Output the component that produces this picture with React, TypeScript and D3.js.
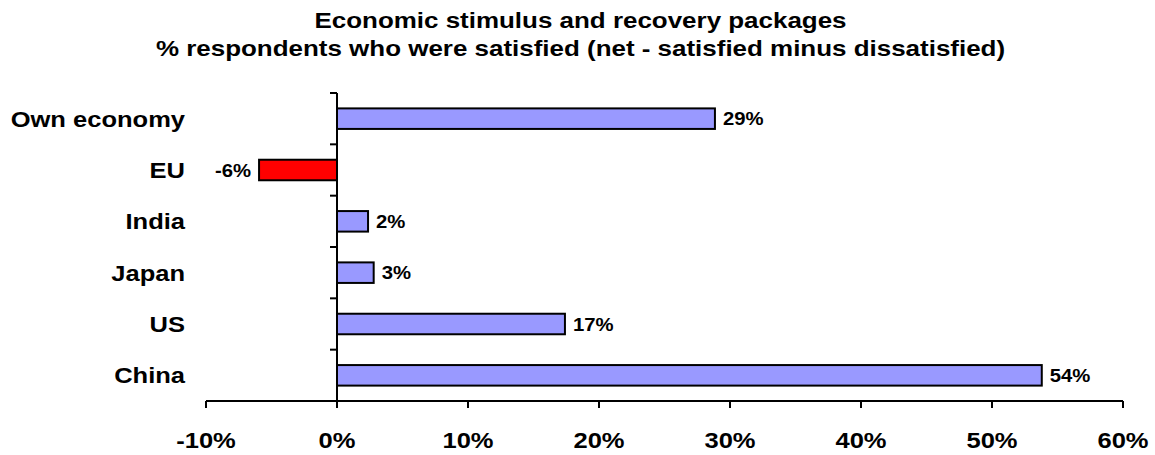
import React from "react";
import * as d3 from "d3";

const categories = ["Own economy", "EU", "India", "Japan", "US", "China"];
const values = [28.85, -5.95, 2.37, 2.8, 17.4, 53.8];
const xTicks = [-10, 0, 10, 20, 30, 40, 50, 60];
const titleLines = [
  "Economic stimulus and recovery packages",
  "% respondents who were satisfied (net - satisfied minus dissatisfied)",
];

const W = 1155;
const H = 455;
const SX = 1.16;
const FONT = "'Liberation Sans', Arial, sans-serif";

function T({ x, y, anchor, size, sx = SX, children }: any) {
  return (
    <text
      transform={`translate(${x},${y}) scale(${sx},1)`}
      textAnchor={anchor}
      fontSize={size}
      fontWeight="bold"
      fontFamily={FONT}
      fill="#000"
    >
      {children}
    </text>
  );
}

export default function App() {
  const x = d3.scaleLinear().domain([-10, 60]).range([206, 1123]);
  const y = d3
    .scaleBand<string>()
    .domain(categories)
    .range([93, 401])
    .paddingInner(0.6)
    .paddingOuter(0.3);
  const step = y.step();
  const x0 = x(0);
  const axisY = 401;

  return (
    <svg
      width={W}
      height={H}
      style={{ position: "fixed", left: 0, top: 0, background: "#fff" }}
    >
      <rect x={0} y={0} width={W} height={H} fill="#fff" />
      {titleLines.map((t, i) => (
        <T key={i} x={580.5} y={28 + i * 28} anchor="middle" size={22} sx={1.18}>
          {t}
        </T>
      ))}
      {categories.map((c, i) => {
        const v = values[i];
        const by = y(c)!;
        const bw = y.bandwidth();
        const xa = x(Math.min(0, v));
        const xb = x(Math.max(0, v));
        const cy = by + bw / 2;
        return (
          <g key={c}>
            <rect
              x={xa}
              y={by}
              width={xb - xa}
              height={bw}
              fill={v < 0 ? "#FF0000" : "#9999FF"}
              stroke="#000"
              strokeWidth={2}
            />
            <T
              x={v < 0 ? xa - 8 : xb + 8}
              y={cy + 6.5}
              anchor={v < 0 ? "end" : "start"}
              size={17.5}
            >
              {`${Math.round(v)}%`}
            </T>
            <T x={185} y={cy + 8} anchor="end" size={22}>
              {c}
            </T>
          </g>
        );
      })}
      {/* y axis */}
      <line x1={x0} x2={x0} y1={93} y2={axisY} stroke="#000" strokeWidth={2} />
      {d3.range(categories.length + 1).map((i) => {
        const ty = 93 + i * step;
        return (
          <line
            key={i}
            x1={x0 - 7}
            x2={x0}
            y1={ty}
            y2={ty}
            stroke="#000"
            strokeWidth={2}
          />
        );
      })}
      {/* x axis */}
      <line
        x1={x(-10)}
        x2={x(60)}
        y1={axisY}
        y2={axisY}
        stroke="#000"
        strokeWidth={2}
      />
      {xTicks.map((t) => (
        <g key={t}>
          <line
            x1={x(t)}
            x2={x(t)}
            y1={axisY}
            y2={axisY + 7}
            stroke="#000"
            strokeWidth={2}
          />
          <T x={x(t)} y={448} anchor="middle" size={22}>
            {`${t}%`}
          </T>
        </g>
      ))}
    </svg>
  );
}
